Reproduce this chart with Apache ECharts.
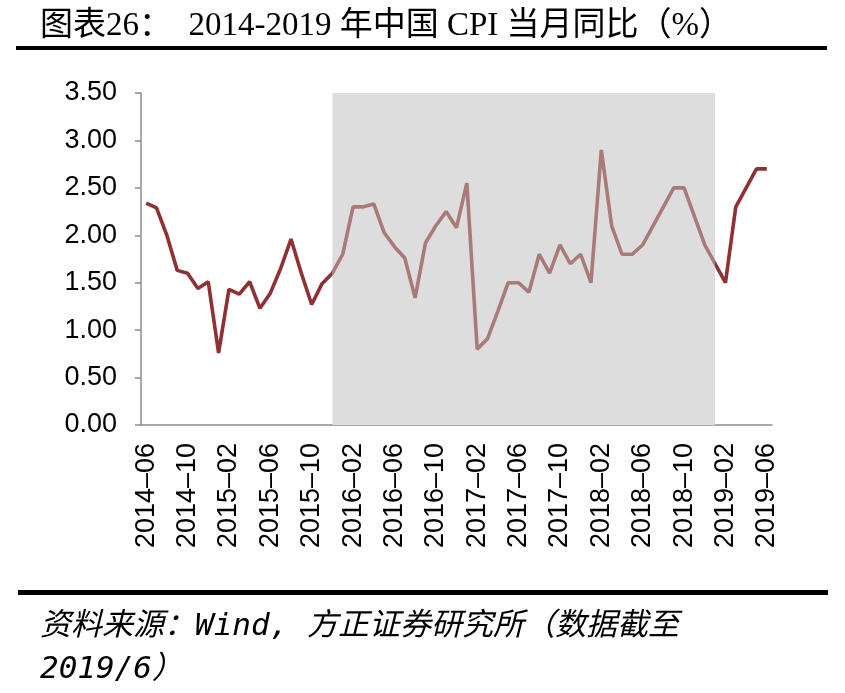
<!DOCTYPE html>
<html>
<head>
<meta charset="utf-8">
<title>2014-2019年中国CPI当月同比</title>
<script src="https://cdn.jsdelivr.net/npm/echarts@6/dist/echarts.min.js"></script>
<style>
    html, body { margin: 0; padding: 0; background: #fff; }
    #cpi_chart { width: 845px; height: 693px; }
</style>
</head>
<body>
<div id="cpi_chart"></div>
<script>
    // 月份（2014-06 ~ 2019-06）
    var months = [
        '2014-06','2014-07','2014-08','2014-09','2014-10','2014-11','2014-12',
        '2015-01','2015-02','2015-03','2015-04','2015-05','2015-06','2015-07','2015-08','2015-09','2015-10','2015-11','2015-12',
        '2016-01','2016-02','2016-03','2016-04','2016-05','2016-06','2016-07','2016-08','2016-09','2016-10','2016-11','2016-12',
        '2017-01','2017-02','2017-03','2017-04','2017-05','2017-06','2017-07','2017-08','2017-09','2017-10','2017-11','2017-12',
        '2018-01','2018-02','2018-03','2018-04','2018-05','2018-06','2018-07','2018-08','2018-09','2018-10','2018-11','2018-12',
        '2019-01','2019-02','2019-03','2019-04','2019-05','2019-06'
    ];
    // CPI当月同比（%）
    var cpiYoy = [
        2.34, 2.29, 2.00, 1.63, 1.60, 1.44, 1.51,
        0.76, 1.43, 1.38, 1.51, 1.23, 1.39, 1.65, 1.96, 1.60, 1.27, 1.49, 1.60,
        1.80, 2.30, 2.30, 2.33, 2.03, 1.88, 1.76, 1.34, 1.92, 2.10, 2.25, 2.08,
        2.55, 0.80, 0.91, 1.20, 1.50, 1.50, 1.40, 1.80, 1.60, 1.90, 1.70, 1.80,
        1.50, 2.90, 2.10, 1.80, 1.80, 1.90, 2.10, 2.30, 2.50, 2.50, 2.20, 1.90,
        1.70, 1.50, 2.30, 2.50, 2.70, 2.70
    ];
    // 阴影区间（类目序号）
    var shadeRange = [18, 54.7];
    // y轴刻度
    var yTicks = { min: 0, max: 3.5, interval: 0.5 };

    var cpi_chart = echarts.init(document.getElementById('cpi_chart'));
    var option = {
        backgroundColor: '#fff',
        animation: false,
        grid: {
            left: 141,
            right: 73,
            top: 93,
            bottom: 268
        },
        graphic: [
            {
                type: 'text',
                left: 40,
                top: 10,
                style: {
                    text: '图表26：  2014-2019 年中国 CPI 当月同比（%）',
                    font: 'normal 33px "Liberation Serif", "Noto Sans CJK SC"',
                    fill: '#000'
                }
            },
            {
                type: 'rect',
                shape: { x: 16, y: 46, width: 811, height: 4 },
                style: { fill: '#000' }
            },
            {
                type: 'rect',
                shape: { x: 18, y: 590, width: 810, height: 5 },
                style: { fill: '#000' }
            },
            {
                type: 'text',
                left: 40,
                top: 605,
                style: {
                    text: '资料来源：Wind, 方正证券研究所（数据截至\n2019/6）',
                    font: 'italic 31px "DejaVu Sans Mono", "Noto Sans CJK SC"',
                    lineHeight: 43,
                    fill: '#000'
                }
            }
        ],
        visualMap: {
            show: false,
            type: 'piecewise',
            seriesIndex: 0,
            dimension: 0,
            pieces: [
                { lt: shadeRange[0], color: '#8E3034' },
                { gte: shadeRange[0], lte: shadeRange[1], color: '#A97A78' },
                { gt: shadeRange[1], color: '#8E3034' }
            ]
        },
        xAxis: {
            type: 'category',
            data: months,
            boundaryGap: true,
            axisLine: { lineStyle: { color: '#8c8c8c', width: 1.5 } },
            axisTick: {
                interval: 3,
                length: 8,
                lineStyle: { color: '#8c8c8c', width: 1.5 }
            },
            axisLabel: {
                interval: 3,
                rotate: 90,
                margin: 18,
                fontSize: 27,
                fontFamily: 'Liberation Sans',
                color: '#000',
                formatter: function (v) {
                    return v.replace('-', '\u2013');
                }
            }
        },
        yAxis: {
            type: 'value',
            min: yTicks.min,
            max: yTicks.max,
            interval: yTicks.interval,
            splitLine: { show: false },
            axisLine: { show: true, lineStyle: { color: '#8c8c8c', width: 1.5 } },
            axisTick: { show: true, length: 6, lineStyle: { color: '#8c8c8c', width: 1.5 } },
            axisLabel: {
                margin: 24,
                fontSize: 27,
                fontFamily: 'Liberation Sans',
                color: '#000',
                formatter: function (v) {
                    return v.toFixed(2);
                }
            }
        },
        series: [
            {
                name: 'CPI当月同比',
                type: 'line',
                data: cpiYoy,
                symbol: 'none',
                lineStyle: { width: 3.6 },
                markArea: {
                    silent: true,
                    itemStyle: { color: '#DDDDDD' },
                    data: [[
                        { xAxis: shadeRange[0], yAxis: yTicks.min },
                        { xAxis: shadeRange[1], yAxis: yTicks.max }
                    ]]
                }
            }
        ]
    };
    cpi_chart.setOption(option);
</script>
</body>
</html>
